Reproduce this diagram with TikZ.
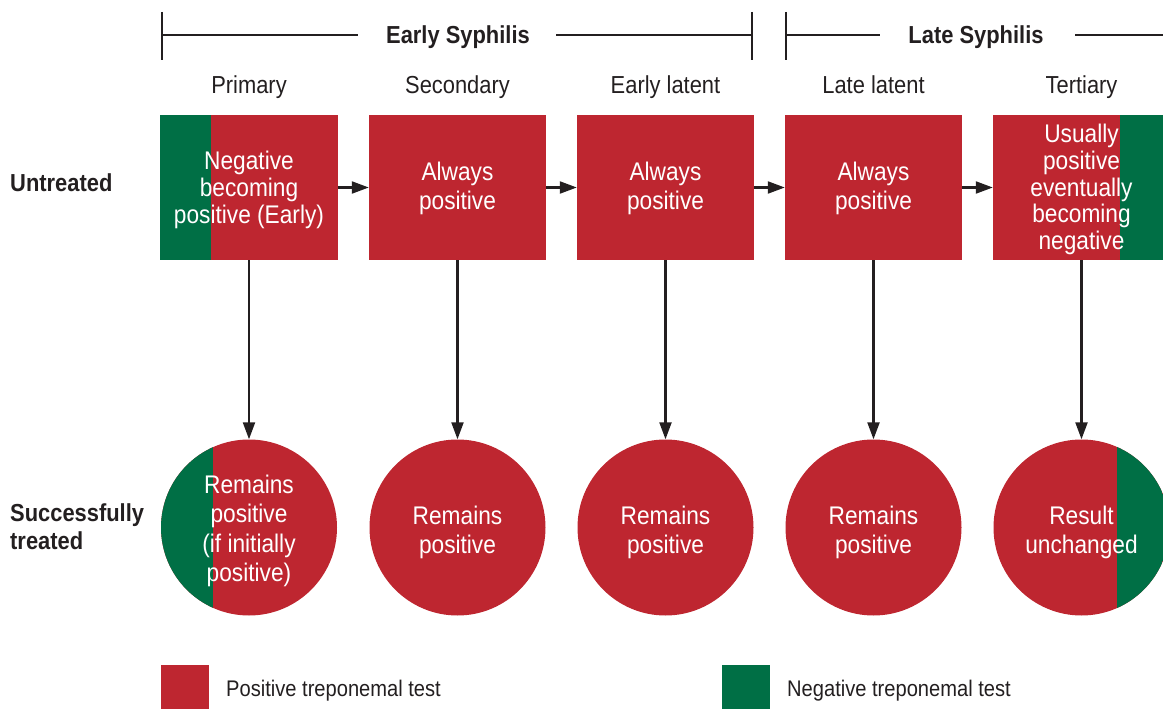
\documentclass[tikz,border=0pt]{standalone}
\usepackage{fontspec}
\setmainfont{Liberation Sans}[FakeStretch=0.89]
\usetikzlibrary{arrows.meta}
\definecolor{posred}{HTML}{BE2630}
\definecolor{neggreen}{HTML}{006F45}
\definecolor{ink}{HTML}{231F20}
\tikzset{
  stagebox/.style={rectangle, fill=posred, minimum width=177pt, minimum height=145pt, inner sep=0pt},
  resultcirc/.style={circle, fill=posred, minimum size=176pt, inner sep=0pt},
  wtxt/.style={text=white, align=center, font=\fontsize{25.5}{29}\selectfont, inner sep=0pt},
  stagelbl/.style={text=ink, font=\fontsize{24.6}{28}\selectfont, inner sep=0pt, anchor=base},
  hdr/.style={text=ink, font=\bfseries\fontsize{24.6}{28}\selectfont, inner sep=0pt, anchor=base},
  rowlbl/.style={text=ink, font=\bfseries\fontsize{24.6}{28}\selectfont, align=left, inner sep=0pt, anchor=west},
  legtxt/.style={text=ink, font=\fontsize{22.6}{26}\selectfont, inner sep=0pt, anchor=base west},
  arr/.style={draw=ink, line width=2.2pt, -{Triangle[length=17pt,width=12pt]}},
  brk/.style={draw=ink, line width=2pt},
}
\begin{document}
\begin{tikzpicture}[x=1pt,y=-1pt]
\useasboundingbox (0,0) rectangle (1163,709);
\clip (0,0) rectangle (1163,709);

% header brackets
\node[hdr] (early) at (458,44) {Early Syphilis};
\node[hdr] (late) at (976,44) {Late Syphilis};
\coordinate (eL) at (162,35);
\coordinate (eR) at (752,35);
\coordinate (lL) at (786,35);
\coordinate (lR) at (1163,35);
\draw[brk] (162,12) -- (162,60);
\draw[brk] (752,12) -- (752,60);
\draw[brk] (786,12) -- (786,60);
\draw[brk] (eL) -- (358,35);
\draw[brk] (556,35) -- (eR);
\draw[brk] (lL) -- (880,35);
\draw[brk] (1075,35) -- (lR);

% stage labels
\node[stagelbl] (s1) at (249,94) {Primary};
\node[stagelbl] (s2) at (457.5,94) {Secondary};
\node[stagelbl] (s3) at (665.5,94) {Early latent};
\node[stagelbl] (s4) at (873.5,94) {Late latent};
\node[stagelbl] (s5) at (1081.5,94) {Tertiary};

% row labels
\node[rowlbl] (untr) at (10,183) {Untreated};
\node[rowlbl] (succ) at (10,527) {Successfully\\treated};

% boxes
\node[stagebox] (b1) at (249,187.5) {};
\fill[neggreen] (b1.north west) rectangle (211,260);
\node[stagebox] (b2) at (457.5,187.5) {};
\node[stagebox] (b3) at (665.5,187.5) {};
\node[stagebox] (b4) at (873.5,187.5) {};
\node[stagebox] (b5) at (1081.5,187.5) {};
\fill[neggreen] (1120,115) rectangle (b5.south east);

\node[wtxt, font=\fontsize{25.5}{27}\selectfont] at ([yshift=-2pt]b1) {Negative\\becoming\\positive (Early)};
\node[wtxt] at ([yshift=-1pt]b2) {Always\\positive};
\node[wtxt] at ([yshift=-1pt]b3) {Always\\positive};
\node[wtxt] at ([yshift=-1pt]b4) {Always\\positive};
\node[wtxt, font=\fontsize{25.5}{26.8}\selectfont] at ([yshift=-2pt]b5) {Usually\\positive\\eventually\\becoming\\negative};

% circles
\node[resultcirc] (c1) at (249,527.5) {};
\begin{scope}
  \clip (c1.center) circle (88pt);
  \fill[neggreen] (150,430) rectangle (213,620);
\end{scope}
\node[resultcirc] (c2) at (457.5,527.5) {};
\node[resultcirc] (c3) at (665.5,527.5) {};
\node[resultcirc] (c4) at (873.5,527.5) {};
\node[resultcirc] (c5) at (1081.5,527.5) {};
\begin{scope}
  \clip (c5.center) circle (88pt);
  \fill[neggreen] (1117,430) rectangle (1175,620);
\end{scope}

\node[wtxt, font=\fontsize{25.5}{29.3}\selectfont] at ([yshift=-3.5pt]c1) {Remains\\positive\\(if initially\\positive)};
\node[wtxt] at ([yshift=-5pt]c2) {Remains\\positive};
\node[wtxt] at ([yshift=-5pt]c3) {Remains\\positive};
\node[wtxt] at ([yshift=-5pt]c4) {Remains\\positive};
\node[wtxt] at ([yshift=-5pt]c5) {Result\\unchanged};

% arrows
\draw[arr] (b1.east) -- (b2.west);
\draw[arr] (b2.east) -- (b3.west);
\draw[arr] (b3.east) -- (b4.west);
\draw[arr] (b4.east) -- (b5.west);
\draw[arr] (b1.south) -- (c1.north);
\draw[arr] (b2.south) -- (c2.north);
\draw[arr] (b3.south) -- (c3.north);
\draw[arr] (b4.south) -- (c4.north);
\draw[arr] (b5.south) -- (c5.north);

% legend
\fill[posred] (161,665) rectangle (209,709);
\node[legtxt] (lp) at (226,696) {Positive treponemal test};
\fill[neggreen] (722,665) rectangle (770,709);
\node[legtxt] (ln) at (787,696) {Negative treponemal test};
\end{tikzpicture}
\end{document}
